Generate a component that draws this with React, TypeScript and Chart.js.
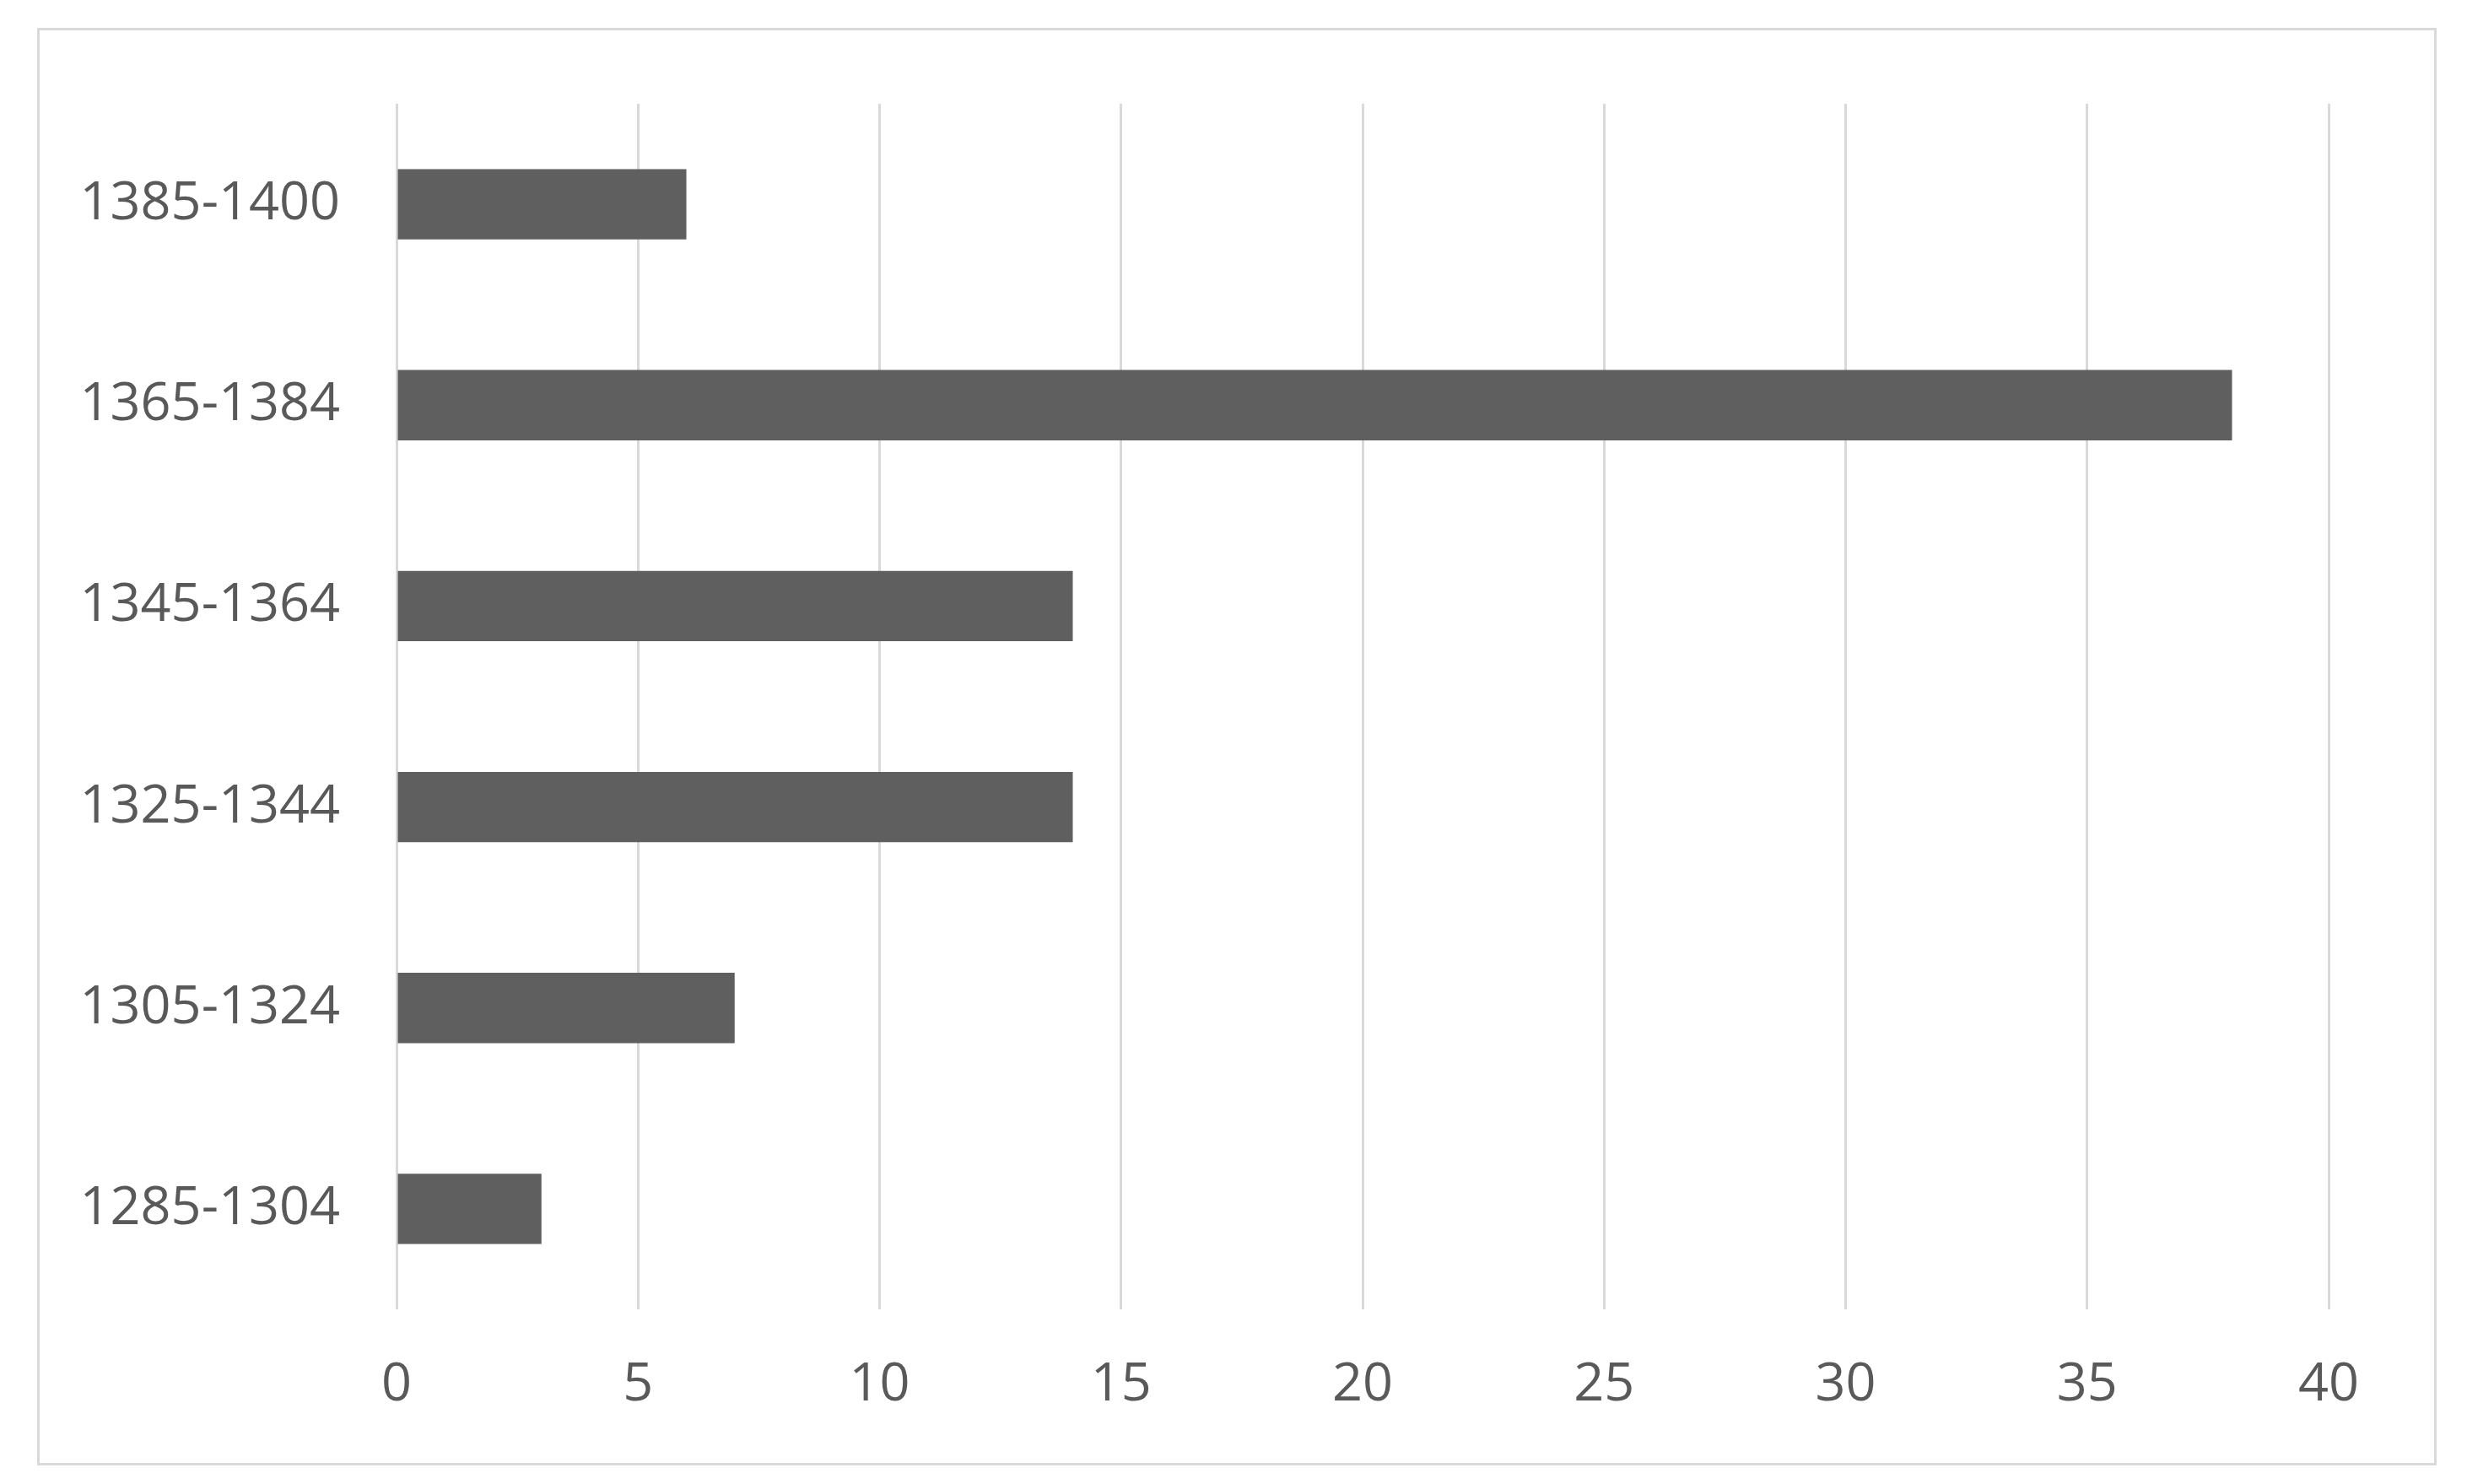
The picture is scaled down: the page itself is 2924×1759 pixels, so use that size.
import React, { useEffect, useRef } from "react";
import { Chart, registerables } from "chart.js";

Chart.register(...registerables);

// Data (chronological order; the axis is reversed so the latest period is on top)
const categories = ["1285-1304", "1305-1324", "1325-1344", "1345-1364", "1365-1384", "1385-1400"];
const values = [3, 7, 14, 14, 38, 6];
const xMin = 0;
const xMax = 40;
const xStep = 5;

const W = 2924;
const H = 1759;
const FONT = { family: "'Open Sans', 'Noto Sans', sans-serif", size: 63 };
const TEXT_COLOR = "#595959";
const GRID_COLOR = "#d9d9d9";
const BAR_COLOR = "#5f5f5f";

export default function App() {
  const ref = useRef<HTMLCanvasElement | null>(null);

  useEffect(() => {
    if (!ref.current) return;
    const chart = new Chart(ref.current, {
      type: "bar",
      data: {
        labels: categories,
        datasets: [
          {
            data: values,
            backgroundColor: BAR_COLOR,
            borderWidth: 0,
            barPercentage: 1,
            categoryPercentage: 0.35,
          },
        ],
      },
      options: {
        indexAxis: "y",
        responsive: false,
        animation: false,
        layout: { padding: { top: 123, right: 164, bottom: 0, left: 0 } },
        plugins: { legend: { display: false }, tooltip: { enabled: false } },
        scales: {
          y: {
            type: "category",
            reverse: true,
            grid: { display: false, drawTicks: false },
            border: { display: false },
            ticks: { font: FONT, color: TEXT_COLOR, padding: 67 },
            afterFit: (s: any) => {
              s.width = 470;
            },
          },
          x: {
            type: "linear",
            min: xMin,
            max: xMax,
            grid: { color: GRID_COLOR, lineWidth: 3, drawTicks: false },
            border: { display: false },
            ticks: { stepSize: xStep, font: FONT, color: TEXT_COLOR, padding: 52 },
            afterFit: (s: any) => {
              s.height = 207;
            },
          },
        },
      },
    });
    return () => chart.destroy();
  }, []);

  return (
    <div style={{ position: "fixed", left: 0, top: 0, width: W, height: H, background: "#fff" }}>
      <div
        style={{
          position: "absolute",
          left: 44,
          top: 33,
          width: 2838,
          height: 1698,
          border: "3px solid #d9d9d9",
        }}
      />
      <canvas ref={ref} width={W} height={H} style={{ position: "absolute", left: 0, top: 0, width: W, height: H }} />
    </div>
  );
}
